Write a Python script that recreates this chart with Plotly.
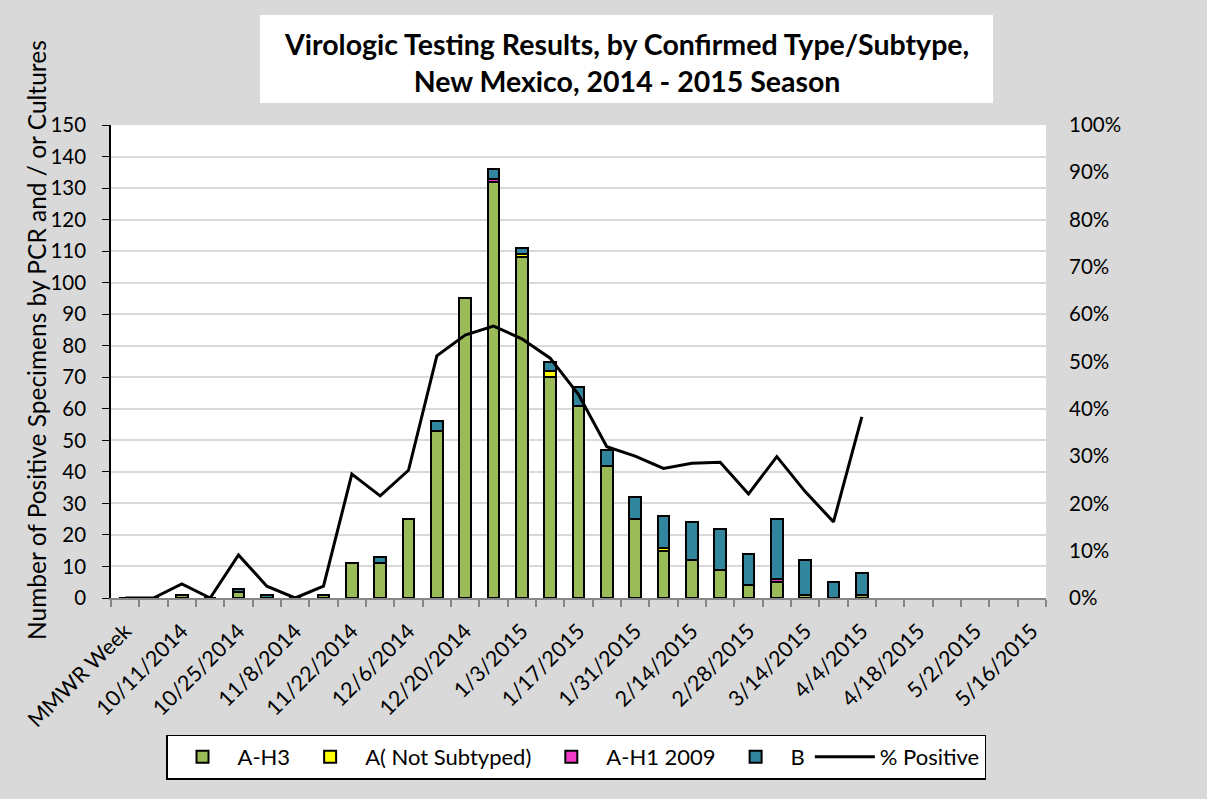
import plotly.graph_objects as go

weeks = ["MMWR Week", "10/4/2014", "10/11/2014", "10/18/2014", "10/25/2014", "11/1/2014",
         "11/8/2014", "11/15/2014", "11/22/2014", "11/29/2014", "12/6/2014", "12/13/2014",
         "12/20/2014", "12/27/2014", "1/3/2015", "1/10/2015", "1/17/2015", "1/24/2015",
         "1/31/2015", "2/7/2015", "2/14/2015", "2/21/2015", "2/28/2015", "3/7/2015",
         "3/14/2015", "3/21/2015", "4/4/2015", "4/11/2015", "4/18/2015", "4/25/2015",
         "5/2/2015", "5/9/2015", "5/16/2015"]

a_h3 = [0, 0, 1, 0, 2, 0, 0, 1, 11, 11, 25, 53, 95, 132, 108, 70, 61, 42, 25, 15, 12, 9, 4, 5, 1, 0, 1]
a_unsub = [0, 0, 0, 0, 0, 0, 0, 0, 0, 0, 0, 0, 0, 0, 1, 2, 0, 0, 0, 1, 0, 0, 0, 0, 0, 0, 0]
a_h1 = [0, 0, 0, 0, 0, 0, 0, 0, 0, 0, 0, 0, 0, 1, 0, 0, 0, 0, 0, 0, 0, 0, 0, 1, 0, 0, 0]
b = [0, 0, 0, 0, 1, 1, 0, 0, 0, 2, 0, 3, 0, 3, 2, 3, 6, 5, 7, 10, 12, 13, 10, 19, 11, 5, 7]
pct_pos = [0, 0, 0.03, 0, 0.091, 0.025, 0, 0.025, 0.262, 0.216, 0.27, 0.512, 0.556, 0.575,
           0.548, 0.507, 0.43, 0.32, 0.30, 0.274, 0.285, 0.287, 0.22, 0.299, 0.225, 0.161, 0.383]

FONT = "Lato"
idx = list(range(len(weeks)))
xd = idx[:len(a_h3)]

fig = go.Figure()
series = [("A-H3", a_h3, "#9bbb59"), ("A( Not Subtyped)", a_unsub, "#ffff00"),
          ("A-H1 2009", a_h1, "#f03cc8"), ("B", b, "#31859c")]
for name, vals, col in series:
    fig.add_trace(go.Bar(x=xd, y=vals, name=name, width=0.42,
                         marker=dict(color=col, line=dict(color="black", width=2))))
fig.add_trace(go.Scatter(x=xd, y=pct_pos, name="% Positive", yaxis="y2", mode="lines",
                         line=dict(color="black", width=3)))

W, H = 1207, 799
L, R, T, B = 111, 161, 125, 201
pw, ph = W - L - R, H - T - B


def px(x):
    return (x - L) / pw


def py(y):
    return (H - B - y) / ph


fig.update_layout(
    width=W, height=H, barmode="stack", bargap=0.58,
    paper_bgcolor="#d9d9d9", plot_bgcolor="white",
    margin=dict(l=L, r=R, t=T, b=B, autoexpand=False),
    font=dict(family=FONT, size=20, color="black"),
    xaxis=dict(range=[-0.5, len(weeks) - 0.5], tickvals=idx[::2], ticktext=weeks[::2],
               tickangle=-45, ticks="", showgrid=False, showline=True, linecolor="#868686",
               linewidth=2, zeroline=False, ticklabelstandoff=10,
               minor=dict(ticks="outside", tick0=0.5, dtick=1, ticklen=7, tickcolor="#868686",
                          tickwidth=2, showgrid=False),
               tickfont=dict(size=21.5)),
    yaxis=dict(range=[0, 150], dtick=10, showgrid=True, gridcolor="#d9d9d9", gridwidth=2,
               showline=True, linecolor="black", linewidth=1.5, ticks="outside", ticklen=7,
               tickcolor="black", zeroline=False, ticklabelstandoff=12, tickfont=dict(size=20.5)),
    yaxis2=dict(range=[0, 1], dtick=0.1, tickformat=".0%", overlaying="y", side="right",
                showgrid=False, showline=False, ticks="", zeroline=False,
                ticklabelstandoff=22, tickfont=dict(size=20.5)),
    legend=dict(orientation="h", x=px(576), xanchor="center", y=py(757), yanchor="middle",
                bgcolor="white", bordercolor="black", borderwidth=1.5, itemwidth=60,
                font=dict(size=22), traceorder="normal"),
    shapes=[dict(type="rect", xref="paper", yref="paper", x0=px(260), x1=px(993),
                 y0=py(103), y1=py(15), fillcolor="white", line=dict(width=0), layer="below")],
    annotations=[
        dict(text="<b>Virologic Testing Results, by Confirmed Type/Subtype,<br>New Mexico, 2014 - 2015 Season</b>",
             xref="paper", yref="paper", x=px(626), y=py(62), xanchor="center", yanchor="middle",
             showarrow=False, font=dict(size=28.5, family=FONT), align="center"),
        dict(text="Number of Positive Specimens by PCR and / or Cultures", textangle=-90,
             xref="paper", yref="paper", x=px(36), y=py(340), xanchor="center", yanchor="middle",
             showarrow=False, font=dict(size=24.5, family=FONT)),
    ],
    showlegend=True,
)

fig.write_html("out.html", config={"displayModeBar": False},
               post_script="document.body.style.margin='0';document.body.style.overflow='hidden';")
